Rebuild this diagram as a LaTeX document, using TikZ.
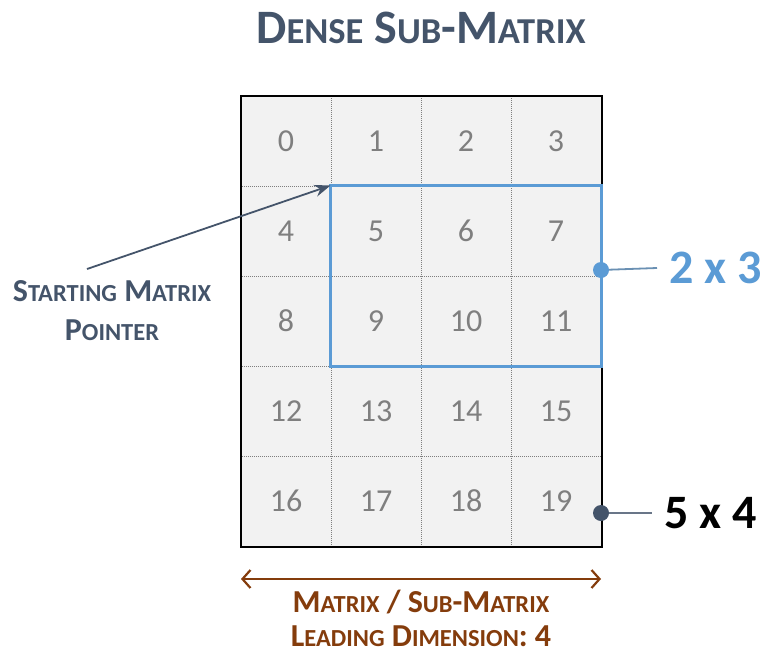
\documentclass[tikz,border=0pt]{standalone}
\usepackage{fontspec}
\setmainfont{Carlito}
\usetikzlibrary{positioning,arrows.meta}

\definecolor{slate}{RGB}{68,84,106}
\definecolor{subblue}{RGB}{91,155,213}
\definecolor{cellgray}{RGB}{242,242,242}
\definecolor{numgray}{RGB}{127,127,127}
\definecolor{rust}{RGB}{132,60,12}

% fake small caps, size is set by the node style
\newcommand\smc[1]{{\fontsize{\smcsize}{\smcsize}\selectfont\MakeUppercase{#1}}}

\begin{document}
\begin{tikzpicture}[x=1pt, y=-1pt,
  cell/.style={minimum width=90pt, minimum height=90pt, inner sep=0pt,
    fill=cellgray, draw=numgray, densely dotted, line width=1pt,
    text=numgray, font=\fontsize{32}{36}\selectfont},
  titletext/.style={text=slate, font=\fontsize{48}{52}\selectfont\bfseries\def\smcsize{36.5}},
  captext/.style={text=slate, font=\fontsize{32}{36}\selectfont\bfseries\def\smcsize{24.5}},
  dimtext/.style={text=rust, font=\fontsize{32}{36}\selectfont\bfseries\def\smcsize{24.5}},
  sizetext/.style={font=\fontsize{48}{52}\selectfont\bfseries, inner sep=12pt},
  dot/.style={circle, inner sep=0pt, minimum size=16pt}]

  \useasboundingbox (0,0) rectangle (762,656);

  % Title
  \node[titletext, anchor=base] (title) at (421,43)
    {D\smc{ense} S\smc{ub}-M\smc{atrix}};

  % Matrix cells 0..19
  \foreach \r in {0,...,4} {
    \foreach \c in {0,...,3} {
      \pgfmathtruncatemacro\idx{4*\r+\c}
      \node[cell] (cell\idx) at (286+90*\c, 141+90*\r) {\idx};
    }
  }
  \draw[line width=2pt] (cell0.north west) rectangle (cell19.south east);

  % Sub-matrix
  \draw[subblue, line width=3.5pt] (cell5.north west) rectangle (cell11.south east);

  % Starting pointer
  \node[captext, anchor=base] (start) at (112,301.5) {S\smc{tarting} M\smc{atrix}};
  \node[captext, anchor=base] (pointer) at (112,340) {P\smc{ointer}};
  \coordinate (ptrtail) at (87,269);
  \draw[slate, line width=1.8pt, -{Stealth[length=16pt,width=12pt]}]
    (ptrtail) -- (cell5.north west);

  % Sizes
  \node[dot, fill=subblue] (subdot) at (601,270) {};
  \node[sizetext, text=subblue, anchor=west] (sub23) at (657,268) {2 x 3};
  \draw[subblue!60!gray, line width=1.8pt] (subdot) -- (sub23.west);

  \node[dot, fill=slate] (fulldot) at (601,513) {};
  \node[sizetext, text=black, anchor=west] (full54) at (652,513) {5 x 4};
  \draw[slate!80, line width=1.8pt] (fulldot) -- (full54.west);

  % Leading dimension
  \coordinate (ldleft) at (241,579);
  \coordinate (ldright) at (601,579);
  \draw[rust, line width=2.2pt,
    {Straight Barb[length=8pt,width=18pt]}-{Straight Barb[length=8pt,width=18pt]}]
    (ldleft) -- (ldright);
  \node[dimtext, anchor=base] (ldtop) at (421,612) {M\smc{atrix} / S\smc{ub}-M\smc{atrix}};
  \node[dimtext, anchor=base] (ldbot) at (421,646) {L\smc{eading} D\smc{imension}: 4};
\end{tikzpicture}
\end{document}
